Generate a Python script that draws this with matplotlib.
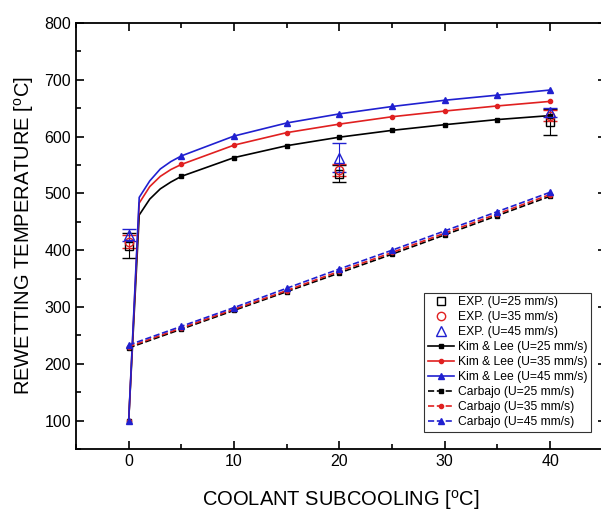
import numpy as np
import matplotlib
matplotlib.use("Agg")
import matplotlib.pyplot as plt
from matplotlib.ticker import MultipleLocator
from matplotlib.lines import Line2D

plt.rcParams['font.family'] = ['Liberation Sans', 'DejaVu Sans']

# experimental data
x_exp = [0, 20, 40]
exp25 = [408, 535, 625]
err25 = [22, 15, 23]
exp35 = [415, 541, 637]
err35 = [12, 10, 10]
exp45 = [427, 563, 643]
err45 = [10, 26, 8]

# Kim & Lee correlation
x_kl = [0, 1, 2, 3, 4, 5, 10, 15, 20, 25, 30, 35, 40]
kl25 = [100, 462, 490, 508, 520, 530, 563, 584, 599, 611, 621, 630, 637]
kl35 = [100, 483, 512, 530, 542, 551, 585, 607, 622, 635, 645, 654, 662]
kl45 = [100, 493, 522, 543, 556, 566, 601, 624, 640, 653, 664, 673, 682]

# Carbajo correlation
x_cb = [0, 5, 10, 15, 20, 25, 30, 35, 40]
cb25 = [228, 261, 294, 327, 360, 393, 427, 461, 495]
cb35 = [230, 263, 296, 329, 363, 396, 430, 464, 498]
cb45 = [233, 266, 299, 333, 367, 400, 434, 468, 502]

black, red, blue = 'black', '#e02020', '#2020d0'

fig = plt.figure(figsize=(6.01, 5.12), dpi=100)
ax = fig.add_axes([76/601, 63/512, 530/601, 426/512])

ax.errorbar(x_exp, exp25, yerr=err25, fmt='s', mfc='none', mec=black, ecolor=black,
            ms=6, capsize=5, elinewidth=0.8)
ax.errorbar(x_exp, exp35, yerr=err35, fmt='o', mfc='none', mec=red, ecolor=red,
            ms=6, capsize=5, elinewidth=0.8)
ax.errorbar(x_exp, exp45, yerr=err45, fmt='^', mfc='none', mec=blue, ecolor=blue,
            ms=7, capsize=5, elinewidth=0.8)

mk = [0, 5, 6, 7, 8, 9, 10, 11, 12]
h4, = ax.plot(x_kl, kl25, '-', color=black, marker='s', ms=3, markevery=mk, lw=1.2, label='Kim & Lee (U=25 mm/s)')
h5, = ax.plot(x_kl, kl35, '-', color=red, marker='o', ms=3, markevery=mk, lw=1.2, label='Kim & Lee (U=35 mm/s)')
h6, = ax.plot(x_kl, kl45, '-', color=blue, marker='^', ms=4, markevery=mk, lw=1.2, label='Kim & Lee (U=45 mm/s)')

h7, = ax.plot(x_cb, cb25, '--', color=black, marker='s', ms=3, lw=1.2, label='Carbajo (U=25 mm/s)')
h8, = ax.plot(x_cb, cb35, '--', color=red, marker='o', ms=3, lw=1.2, label='Carbajo (U=35 mm/s)')
h9, = ax.plot(x_cb, cb45, '--', color=blue, marker='^', ms=4, lw=1.2, label='Carbajo (U=45 mm/s)')

h1 = Line2D([], [], ls='none', marker='s', mfc='none', mec=black, ms=6, label='EXP. (U=25 mm/s)')
h2 = Line2D([], [], ls='none', marker='o', mfc='none', mec=red, ms=6, label='EXP. (U=35 mm/s)')
h3 = Line2D([], [], ls='none', marker='^', mfc='none', mec=blue, ms=7, label='EXP. (U=45 mm/s)')

ax.set_xlim(-5, 45.3)
ax.set_ylim(50, 800)
ax.xaxis.set_major_locator(MultipleLocator(10))
ax.xaxis.set_minor_locator(MultipleLocator(5))
ax.yaxis.set_major_locator(MultipleLocator(100))
ax.yaxis.set_minor_locator(MultipleLocator(50))
ax.set_yticks([100, 200, 300, 400, 500, 600, 700, 800])
ax.tick_params(which='both', direction='in', top=True, right=True, labelsize=11.5, width=1.2)
ax.tick_params(which='major', length=6)
ax.tick_params(which='minor', length=3.5)
for s in ax.spines.values():
    s.set_linewidth(1.3)

ax.set_xlabel('COOLANT SUBCOOLING [$\\mathregular{^o}$C]', fontsize=14.5, labelpad=14)
ax.set_ylabel('REWETTING TEMPERATURE [$\\mathregular{^o}$C]', fontsize=14.5, labelpad=6)

leg = ax.legend(handles=[h1, h2, h3, h4, h5, h6, h7, h8, h9], loc='lower right',
                bbox_to_anchor=(0.972, 0.04), fontsize=8.7, frameon=True,
                fancybox=False, edgecolor='black', handlelength=2.2, handletextpad=0.3,
                borderpad=0.3, labelspacing=0.25, borderaxespad=0)
leg.get_frame().set_linewidth(0.8)

fig.savefig('out.png', dpi=100)
